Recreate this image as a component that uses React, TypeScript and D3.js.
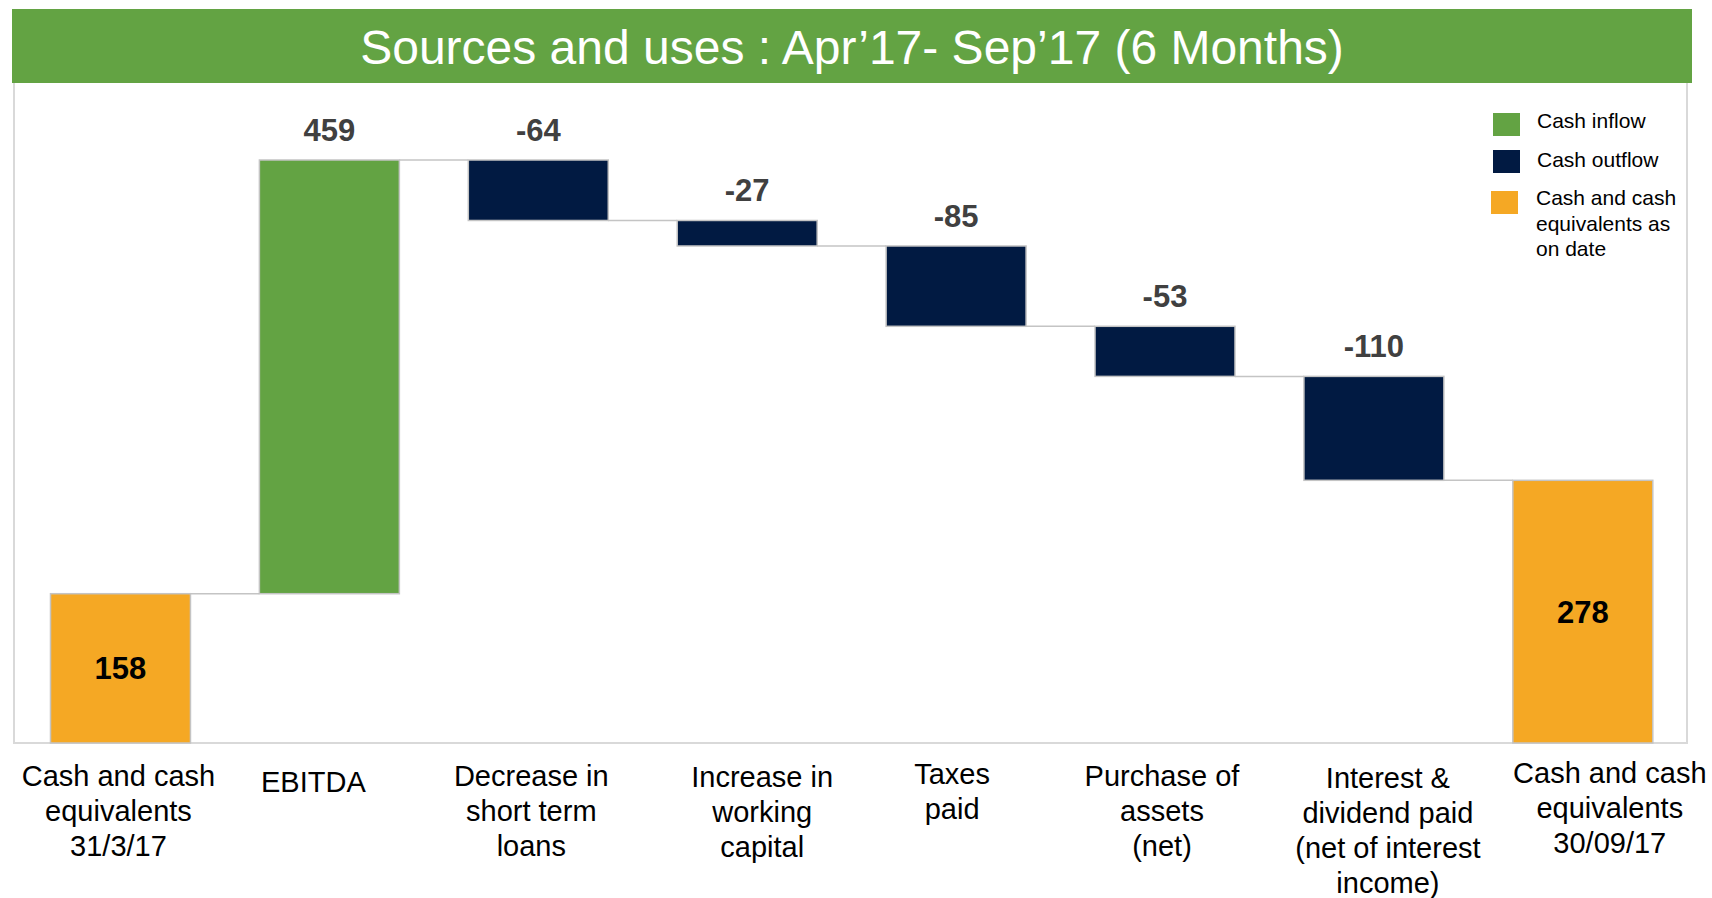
import React from "react";
import * as d3 from "d3";

const categories: string[][] = [
  ["Cash and cash", "equivalents", "31/3/17"],
  ["EBITDA"],
  ["Decrease in", "short term", "loans"],
  ["Increase in", "working", "capital"],
  ["Taxes", "paid"],
  ["Purchase of", "assets", "(net)"],
  ["Interest &", "dividend paid", "(net of interest", "income)"],
  ["Cash and cash", "equivalents", "30/09/17"],
];
const values: number[] = [158, 459, -64, -27, -85, -53, -110, 278];
const kinds: string[] = ["total", "inflow", "outflow", "outflow", "outflow", "outflow", "outflow", "total"];

const legendLabels: string[][] = [
  ["Cash inflow"],
  ["Cash outflow"],
  ["Cash and cash", "equivalents as", "on date"],
];
const legendKinds: string[] = ["inflow", "outflow", "total"];

const title = "Sources and uses : Apr\u201917- Sep\u201917 (6 Months)";

// layout (not data)
const labelDx = [-2, -16, -7, 15, -4, -3, 14, 27];
const labelBaseline = [786, 792, 786, 787, 784, 786, 788, 783];

const COLORS: Record<string, string> = {
  inflow: "#63A343",
  outflow: "#011A42",
  total: "#F5A824",
};
const FONT = "'Liberation Sans', Arial, sans-serif";

export default function App() {
  const W = 1712;
  const H = 898;
  const ids = categories.map((_, i) => String(i));
  const x = d3.scaleBand<string>().domain(ids).range([50.5, 1652.8]).paddingInner(0.33).paddingOuter(0);
  const maxTotal = d3.max(
    values.map((_, i) => d3.sum(values.slice(0, i + 1).filter((_, j) => kinds[j] !== "total" || j === 0)))
  ) as number;
  const y = d3.scaleLinear().domain([0, maxTotal]).range([743, 160]);

  let running = 0;
  const bars = values.map((v, i) => {
    let y0: number, y1: number;
    if (kinds[i] === "total") {
      y0 = 0;
      y1 = v;
      running = v;
    } else {
      y0 = running;
      y1 = running + v;
      running = y1;
    }
    return { i, v, kind: kinds[i], lo: Math.min(y0, y1), hi: Math.max(y0, y1), end: y1 };
  });

  const bw = x.bandwidth();

  return (
    <svg
      width={W}
      height={H}
      style={{ position: "absolute", left: 0, top: 0, background: "#fff" }}
      fontFamily={FONT}
    >
      <rect x={12} y={9} width={1680} height={74} fill="#63A343" />
      <text x={852} y={64} textAnchor="middle" fill="#fff" fontSize={48}>
        {title}
      </text>

      <polyline
        points={`14,83 14,743 1687,743 1687,83`}
        fill="none"
        stroke="#d9d9d9"
        strokeWidth={2}
      />

      {bars.slice(0, -1).map((b, i) => {
        const xs = (x(String(i)) as number) + bw;
        const xe = x(String(i + 1)) as number;
        const yy = y(b.end);
        return <line key={"c" + i} x1={xs} x2={xe} y1={yy} y2={yy} stroke="#c4c4c4" strokeWidth={1.5} />;
      })}

      {bars.map((b) => (
        <rect
          key={"b" + b.i}
          x={x(String(b.i))}
          y={y(b.hi)}
          width={bw}
          height={y(b.lo) - y(b.hi)}
          fill={COLORS[b.kind]}
          stroke="#c4c4c4"
          strokeWidth={1.5}
        />
      ))}

      {bars.map((b) => {
        const cx = (x(String(b.i)) as number) + bw / 2;
        if (b.kind === "total") {
          const mid = (y(b.lo) + y(b.hi)) / 2;
          return (
            <text key={"v" + b.i} x={cx} y={mid + 11} textAnchor="middle" fontSize={31} fontWeight="bold" fill="#000">
              {b.v}
            </text>
          );
        }
        return (
          <text key={"v" + b.i} x={cx} y={y(b.hi) - 19} textAnchor="middle" fontSize={31} fontWeight="bold" fill="#404040">
            {b.v}
          </text>
        );
      })}

      {categories.map((lines, i) => {
        const cx = (x(String(i)) as number) + bw / 2 + labelDx[i];
        return (
          <text key={"l" + i} x={cx} y={labelBaseline[i]} textAnchor="middle" fontSize={29} fill="#000">
            {lines.map((ln, k) => (
              <tspan key={k} x={cx} dy={k === 0 ? 0 : 35}>
                {ln}
              </tspan>
            ))}
          </text>
        );
      })}

      {legendKinds.map((k, i) => {
        const sy = [113, 150, 191][i];
        const sx = i === 2 ? 1491 : 1493;
        const tx = i === 2 ? 1536 : 1537;
        const ty = [128, 167, 205][i];
        return (
          <g key={"lg" + i}>
            <rect x={sx} y={sy} width={27} height={23} fill={COLORS[k]} />
            <text x={tx} y={ty} fontSize={21} fill="#000">
              {legendLabels[i].map((ln, j) => (
                <tspan key={j} x={tx} dy={j === 0 ? 0 : 25.5}>
                  {ln}
                </tspan>
              ))}
            </text>
          </g>
        );
      })}
    </svg>
  );
}
